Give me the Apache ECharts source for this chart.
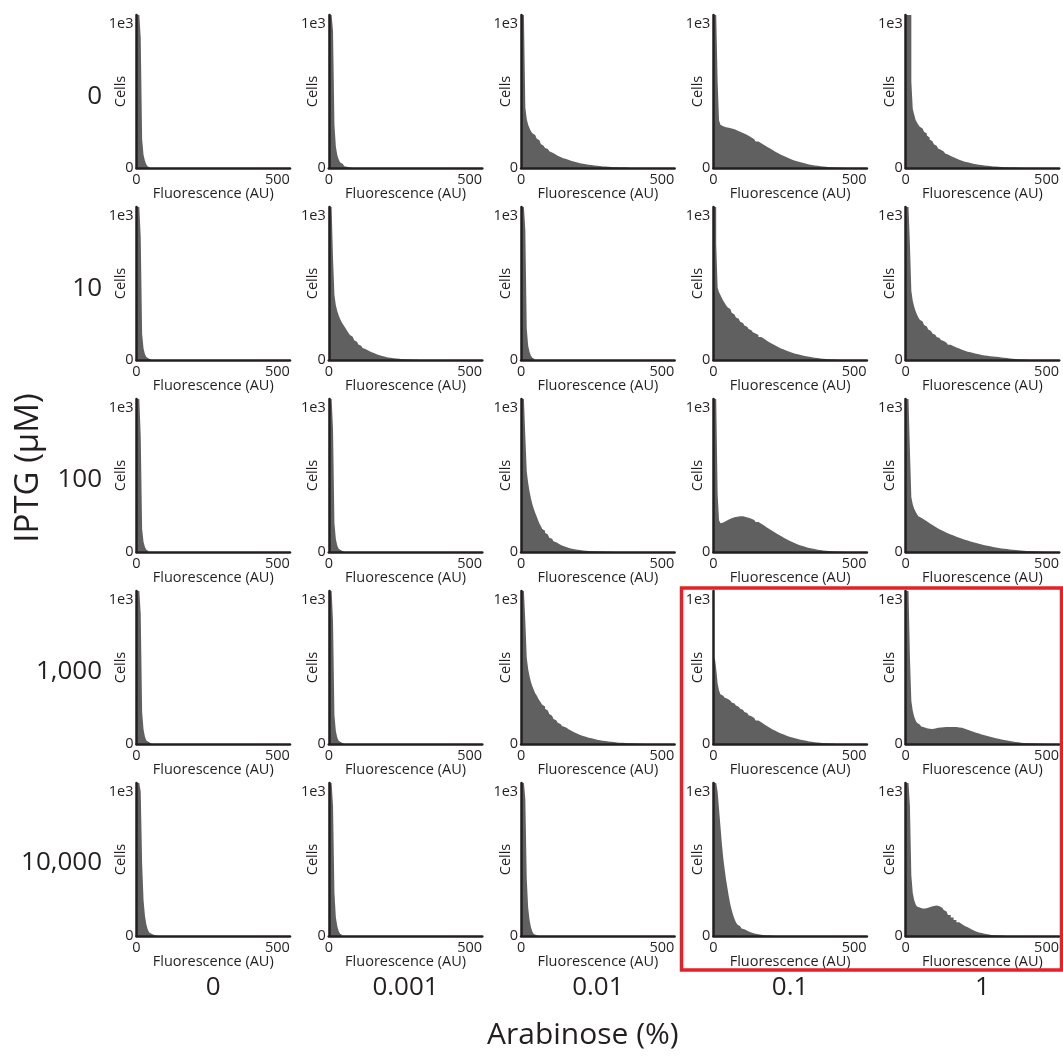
<!DOCTYPE html>
<html><head><meta charset="utf-8">
<script src="https://cdn.jsdelivr.net/npm/echarts@6/dist/echarts.min.js"></script>
<style>html,body{margin:0;padding:0;background:#fff}#c{width:1063px;height:1057px}</style>
</head><body><div id="c"></div>
<script>
// ---------- data ----------
const arabinoseLabels = ['0', '0.001', '0.01', '0.1', '1'];
const iptgLabels = ['0', '10', '100', '1,000', '10,000'];
const fluorTicks = [0, 500];
const cellTicks = [0, 1000];
// histogram bin edges (AU): 5 AU bins up to 150, 10 AU bins beyond
const binEdges = [0,5,10,15,20,25,30,35,40,45,50,55,60,65,70,75,80,85,90,95,100,105,110,115,120,125,130,135,140,145,150,
  160,170,180,190,200,210,220,230,240,250,260,270,280,290,300,310,320,330,340,350,360,370,380,390,400,410,420,430,440,450,460,470,480,490,500,510,520,530,540];

// counts per bin; row = IPTG (uM), column = arabinose (%)
const counts_iptg0_ara0 = [1060,1060,1060,900,200,90,50,25,10,4,1];
const counts_iptg0_ara0001 = [1060,1060,1060,950,300,150,90,60,40,28,18,12,9,6,4,3,2,1];
const counts_iptg0_ara001 = [1060,1060,1060,420,340,300,275,255,240,228,215,205,192,180,166,155,146,138,132,124,116,108,103,97,91,85,80,76,72,68,62,55,48,43,38,33,29,26,22,20,17,15,13,11,10,8,7,6,5,4,3,3,2,1];
const counts_iptg0_ara01 = [1060,1060,1060,600,330,300,290,285,282,280,279,277,274,270,268,264,260,256,252,248,243,237,233,227,223,217,211,205,199,193,184,172,160,148,136,124,113,102,92,83,74,66,58,51,45,39,34,29,25,21,18,15,12,10,8,6,5,4,3,2,2,1];
const counts_iptg0_ara1 = [1060,1060,1060,1060,600,410,370,335,315,300,286,274,264,252,239,225,212,198,186,174,165,155,145,135,127,121,114,106,100,94,84,74,65,57,50,44,39,34,30,26,23,20,17,15,13,11,10,8,7,6,5,4,3,3,2,1,1];

const counts_iptg10_ara0 = [1060,1060,1060,850,180,80,40,20,8,3,1];
const counts_iptg10_ara0001 = [1060,1060,1060,700,450,380,340,310,285,265,247,233,218,202,187,173,161,149,137,127,117,107,99,91,83,77,71,65,59,55,48,40,33,27,22,18,15,12,10,8,6,5,4,3,2,2,1];
const counts_iptg10_ara001 = [1060,1060,1060,900,220,100,55,30,15,6,2];
const counts_iptg10_ara01 = [1060,1060,800,500,470,450,430,410,395,380,366,354,342,328,316,304,295,285,275,265,256,248,239,231,222,214,206,198,192,184,174,160,147,134,122,111,100,90,80,72,64,57,50,44,39,34,30,26,22,19,16,13,11,9,7,5,4,3,2,1];
const counts_iptg10_ara1 = [1060,1060,1060,800,480,410,370,340,315,295,278,266,254,242,232,220,211,201,192,184,175,167,160,152,146,138,132,126,120,114,106,96,87,79,71,64,58,53,48,43,39,35,32,29,26,24,22,20,18,16,13,11,9,7,5,4,3,2,1];

const counts_iptg100_ara0 = [1060,1060,1060,800,160,70,35,15,6,2];
const counts_iptg100_ara0001 = [1060,1060,1060,850,200,90,45,22,10,4,1];
const counts_iptg100_ara001 = [1060,1060,1060,800,560,480,420,370,330,300,272,248,222,198,180,160,147,133,121,109,99,91,82,74,67,61,55,49,45,40,34,28,23,19,16,13,11,9,7,6,5,4,3,3,2,2,1,1];
const counts_iptg100_ara01 = [1060,1060,1060,400,220,200,205,210,215,220,226,230,234,238,241,243,245,247,248,248,247,245,243,241,238,234,230,226,221,215,207,195,183,170,158,146,134,122,110,99,88,78,69,60,52,45,39,33,28,24,20,16,13,11,9,7,5,4,3,2,2,1];
const counts_iptg100_ara1 = [1060,1060,1060,700,380,330,300,280,262,248,238,232,225,219,213,207,200,192,187,181,175,169,163,157,152,148,143,137,133,129,122,114,106,99,92,85,79,73,67,62,57,52,47,43,39,35,31,28,25,22,20,18,16,14,12,10,8,7,6,5,4,3,2,2,1];

const counts_iptg1000_ara0 = [1060,1060,1060,900,220,100,50,25,12,5,2];
const counts_iptg1000_ara0001 = [1060,1060,1060,850,200,90,45,22,10,4,1];
const counts_iptg1000_ara001 = [1060,1060,1060,850,600,520,470,430,400,375,352,338,318,302,288,272,259,245,232,220,208,196,186,174,165,155,147,139,132,124,114,101,90,80,71,63,56,50,44,39,34,30,26,23,20,17,15,13,11,9,8,7,6,5,4,3,2,2,1];
const counts_iptg1000_ara01 = [560,600,520,420,370,345,335,328,320,314,310,302,296,288,281,275,266,258,252,244,237,229,222,214,208,200,193,187,180,172,163,150,137,124,112,101,91,82,73,65,58,51,45,40,35,30,26,22,18,15,12,10,8,6,5,4,3,2,1];
const counts_iptg1000_ara1 = [1060,1060,1060,600,300,230,190,165,148,135,127,121,116,112,109,107,105,103,104,106,108,111,112,114,115,116,116,118,117,119,118,118,117,115,112,106,99,92,85,78,72,66,60,55,50,45,40,36,31,27,24,20,17,14,12,9,7,6,5,4,3,2,2,1,1];

const counts_iptg10000_ara0 = [1060,1060,1060,1000,500,250,140,80,45,25,14,9,5,3,1];
const counts_iptg10000_ara0001 = [1060,1060,1060,900,300,130,70,35,15,6,2];
const counts_iptg10000_ara001 = [1060,1060,1060,950,400,200,110,60,30,14,6,3,1];
const counts_iptg10000_ara01 = [1060,1060,1060,1000,880,760,640,540,460,390,330,270,220,180,145,118,96,80,68,58,52,46,42,37,33,28,25,21,18,15,12,9,6,4,3,2,1];
const counts_iptg10000_ara1 = [1060,1060,1060,900,420,300,250,220,205,198,194,190,189,191,193,196,199,202,205,208,210,211,210,206,200,195,188,180,170,158,146,128,110,95,82,70,60,50,40,32,25,20,15,12,9,6,5,4,3,2,1];

const panelCounts = [
  [counts_iptg0_ara0, counts_iptg0_ara0001, counts_iptg0_ara001, counts_iptg0_ara01, counts_iptg0_ara1],
  [counts_iptg10_ara0, counts_iptg10_ara0001, counts_iptg10_ara001, counts_iptg10_ara01, counts_iptg10_ara1],
  [counts_iptg100_ara0, counts_iptg100_ara0001, counts_iptg100_ara001, counts_iptg100_ara01, counts_iptg100_ara1],
  [counts_iptg1000_ara0, counts_iptg1000_ara0001, counts_iptg1000_ara001, counts_iptg1000_ara01, counts_iptg1000_ara1],
  [counts_iptg10000_ara0, counts_iptg10000_ara0001, counts_iptg10000_ara001, counts_iptg10000_ara01, counts_iptg10000_ara1]
];

// ---------- layout / style ----------
const FONT = '"Open Sans", "Noto Sans", sans-serif';
const INK = '#231f20';
const FILL = '#606060';
const P_LEFT0 = 136.5, P_COLSTEP = 192.3, P_W = 153.5;
const P_TOP0 = 15, P_ROWSTEP = 192, P_H = 153;
const X_MAX = 545, Y_MAX = 1060;

const grids = [], xAxes = [], yAxes = [], series = [];
let idx = 0;
for (let r = 0; r < 5; r++) {
  for (let c = 0; c < 5; c++) {
    grids.push({ left: P_LEFT0 + c * P_COLSTEP, top: P_TOP0 + r * P_ROWSTEP, width: P_W, height: P_H,
      containLabel: false, outerBoundsMode: 'none' });
    xAxes.push({
      type: 'value', gridIndex: idx, min: 0, max: X_MAX, interval: 500, z: 5,
      axisLine: { show: true, onZero: false, lineStyle: { color: INK, width: 2.5 } },
      axisTick: { show: false }, splitLine: { show: false },
      axisLabel: { margin: 4, fontSize: 14.5, color: INK, fontFamily: FONT, hideOverlap: false,
        formatter: v => fluorTicks.includes(v) ? String(v) : '' },
      name: 'Fluorescence (AU)', nameLocation: 'middle', nameGap: 18, nameMoveOverlap: false,
      nameTextStyle: { fontSize: 14.5, color: INK, fontFamily: FONT }
    });
    yAxes.push({
      type: 'value', gridIndex: idx, min: 0, max: Y_MAX, interval: 1000, z: 5,
      axisLine: { show: true, onZero: false, lineStyle: { color: INK, width: 2.5 } },
      axisTick: { show: false }, splitLine: { show: false },
      axisLabel: { margin: 3, fontSize: 14.5, color: INK, fontFamily: FONT, hideOverlap: false,
        formatter: v => cellTicks.includes(v) ? (v === 0 ? '0' : '1e' + Math.round(Math.log10(v))) : '' },
      name: 'Cells', nameLocation: 'middle', nameGap: 8, nameMoveOverlap: false,
      nameTextStyle: { fontSize: 14.5, color: INK, fontFamily: FONT }
    });
    const cnt = panelCounts[r][c];
    const pts = cnt.map((v, i) => [binEdges[i], v]);
    pts.push([binEdges[cnt.length], 0]);
    series.push({
      type: 'line', xAxisIndex: idx, yAxisIndex: idx, data: pts, step: 'end',
      symbol: 'none', silent: true, clip: true,
      lineStyle: { width: 0, opacity: 0 },
      areaStyle: { color: FILL, opacity: 1 }
    });
    idx++;
  }
}
// label grid for the two factors
grids.push({ left: 117.1, top: 1.25, width: 961.5, height: 957.5, containLabel: false, outerBoundsMode: 'none' });
xAxes.push({
  type: 'category', gridIndex: idx, data: arabinoseLabels, boundaryGap: true,
  axisLine: { show: false }, axisTick: { show: false }, splitLine: { show: false },
  axisLabel: { margin: 16, fontSize: 26, color: INK, fontFamily: FONT },
  name: 'Arabinose (%)', nameLocation: 'middle', nameGap: 62, nameMoveOverlap: false,
  nameTextStyle: { fontSize: 30, color: INK, fontFamily: FONT, padding: [0, 30, 0, 0] }
});
yAxes.push({
  type: 'category', gridIndex: idx, data: iptgLabels, inverse: true, boundaryGap: true,
  axisLine: { show: false }, axisTick: { show: false }, splitLine: { show: false },
  axisLabel: { margin: 15, fontSize: 26, color: INK, fontFamily: FONT },
  name: 'IPTG (μM)', nameLocation: 'middle', nameGap: 72, nameMoveOverlap: false,
  nameTextStyle: { fontSize: 33, color: INK, fontFamily: FONT, padding: [0, 0, 0, 24] }
});

const chart = echarts.init(document.getElementById('c'), null, { renderer: 'canvas' });
chart.setOption({
  animation: false,
  backgroundColor: '#ffffff',
  grid: grids, xAxis: xAxes, yAxis: yAxes, series: series,
  graphic: [{
    type: 'rect', z: 100, silent: true,
    shape: { x: 681.5, y: 588, width: 380, height: 382 },
    style: { fill: 'none', stroke: '#e42128', lineWidth: 3.5 }
  }]
});
</script></body></html>
